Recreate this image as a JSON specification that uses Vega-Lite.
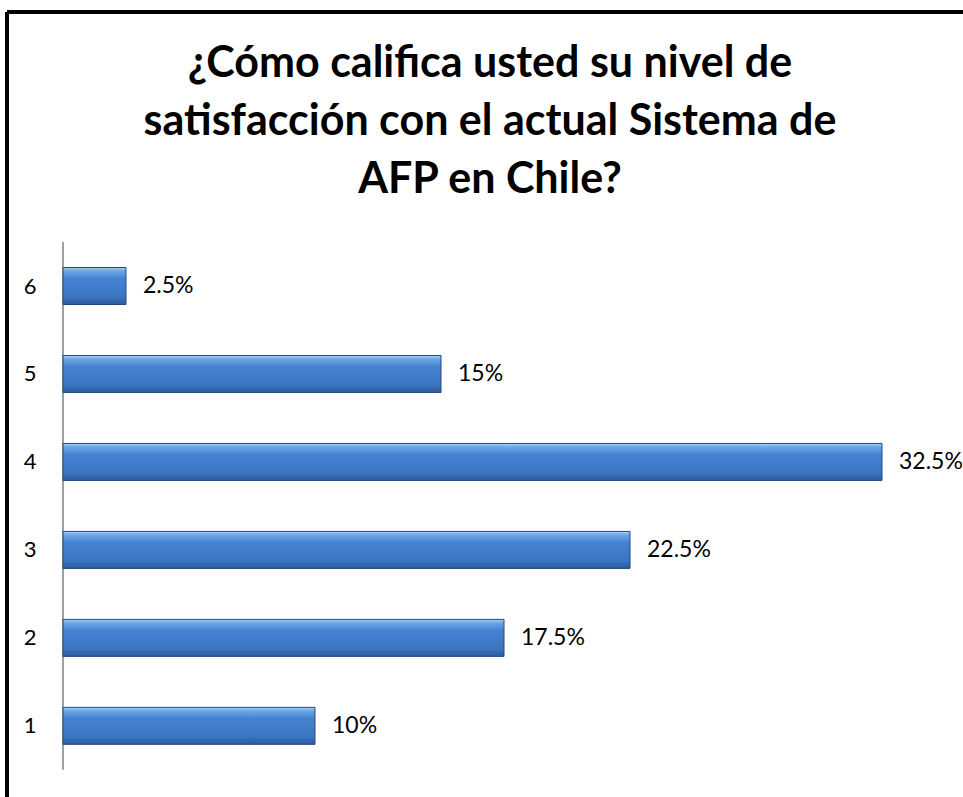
{
  "$schema": "https://vega.github.io/schema/vega-lite/v6.json",
  "width": 956,
  "height": 785,
  "autosize": {"type": "none"},
  "padding": {"left": 7, "top": 12, "right": 0, "bottom": 0},
  "background": "white",
  "config": {
    "view": {"stroke": "#000000", "strokeWidth": 4, "strokeDash": [956, 1741, 785, 0]},
    "font": "Lato"
  },
  "title": {
    "text": ["¿Cómo califica usted su nivel de", "satisfacción con el actual Sistema de", "AFP en Chile?"],
    "font": "Lato",
    "fontSize": 43,
    "fontWeight": "bold",
    "color": "#000000",
    "lineHeight": 58,
    "anchor": "middle",
    "frame": "group",
    "baseline": "top",
    "offset": -190,
    "dx": 5
  },
  "data": {
    "values": [
      {"cat": 1, "value": 10, "label": "10%"},
      {"cat": 2, "value": 17.5, "label": "17.5%"},
      {"cat": 3, "value": 22.5, "label": "22.5%"},
      {"cat": 4, "value": 32.5, "label": "32.5%"},
      {"cat": 5, "value": 15, "label": "15%"},
      {"cat": 6, "value": 2.5, "label": "2.5%"}
    ]
  },
  "layer": [
    {
      "data": {"values": [{}]},
      "mark": {"type": "rule", "color": "#a0a0a0", "strokeWidth": 2},
      "encoding": {
        "x": {"datum": 0, "type": "quantitative", "scale": {"domain": [-2.222, 35.714], "nice": false, "zero": false}, "axis": null},
        "y": {"datum": 0.5, "type": "quantitative", "scale": {"domain": [0.248, 9.058], "nice": false, "zero": false}},
        "y2": {"datum": 6.5}
      }
    },
    {
      "mark": {
        "type": "bar",
        "orient": "horizontal",
        "size": 37,
        "color": {
          "gradient": "linear",
          "x1": 0, "y1": 0, "x2": 0, "y2": 1,
          "stops": [
            {"offset": 0, "color": "#a9d1f7"},
            {"offset": 0.1, "color": "#6aa5e6"},
            {"offset": 0.3, "color": "#4483d1"},
            {"offset": 0.8, "color": "#3b74c0"},
            {"offset": 1, "color": "#2a5a9a"}
          ]
        },
        "stroke": "#254a7a",
        "strokeWidth": 1
      },
      "encoding": {
        "y": {
          "field": "cat",
          "type": "quantitative",
          "scale": {"domain": [0.248, 9.058], "nice": false, "zero": false},
          "axis": {
            "offset": -56,
            "domain": false,
            "ticks": false,
            "grid": false,
            "values": [1, 2, 3, 4, 5, 6],
            "format": "d",
            "title": null,
            "labelFont": "Lato",
            "labelFontSize": 22,
            "labelColor": "#000000",
            "labelPadding": 27
          }
        },
        "x": {"field": "value", "type": "quantitative", "scale": {"domain": [-2.222, 35.714], "nice": false, "zero": false}, "axis": null},
        "x2": {"datum": 0}
      }
    },
    {
      "mark": {"type": "text", "align": "left", "baseline": "middle", "dx": 17, "fontSize": 23, "font": "Lato", "color": "#000000"},
      "encoding": {
        "y": {"field": "cat", "type": "quantitative"},
        "x": {"field": "value", "type": "quantitative"},
        "text": {"field": "label"}
      }
    }
  ]
}
